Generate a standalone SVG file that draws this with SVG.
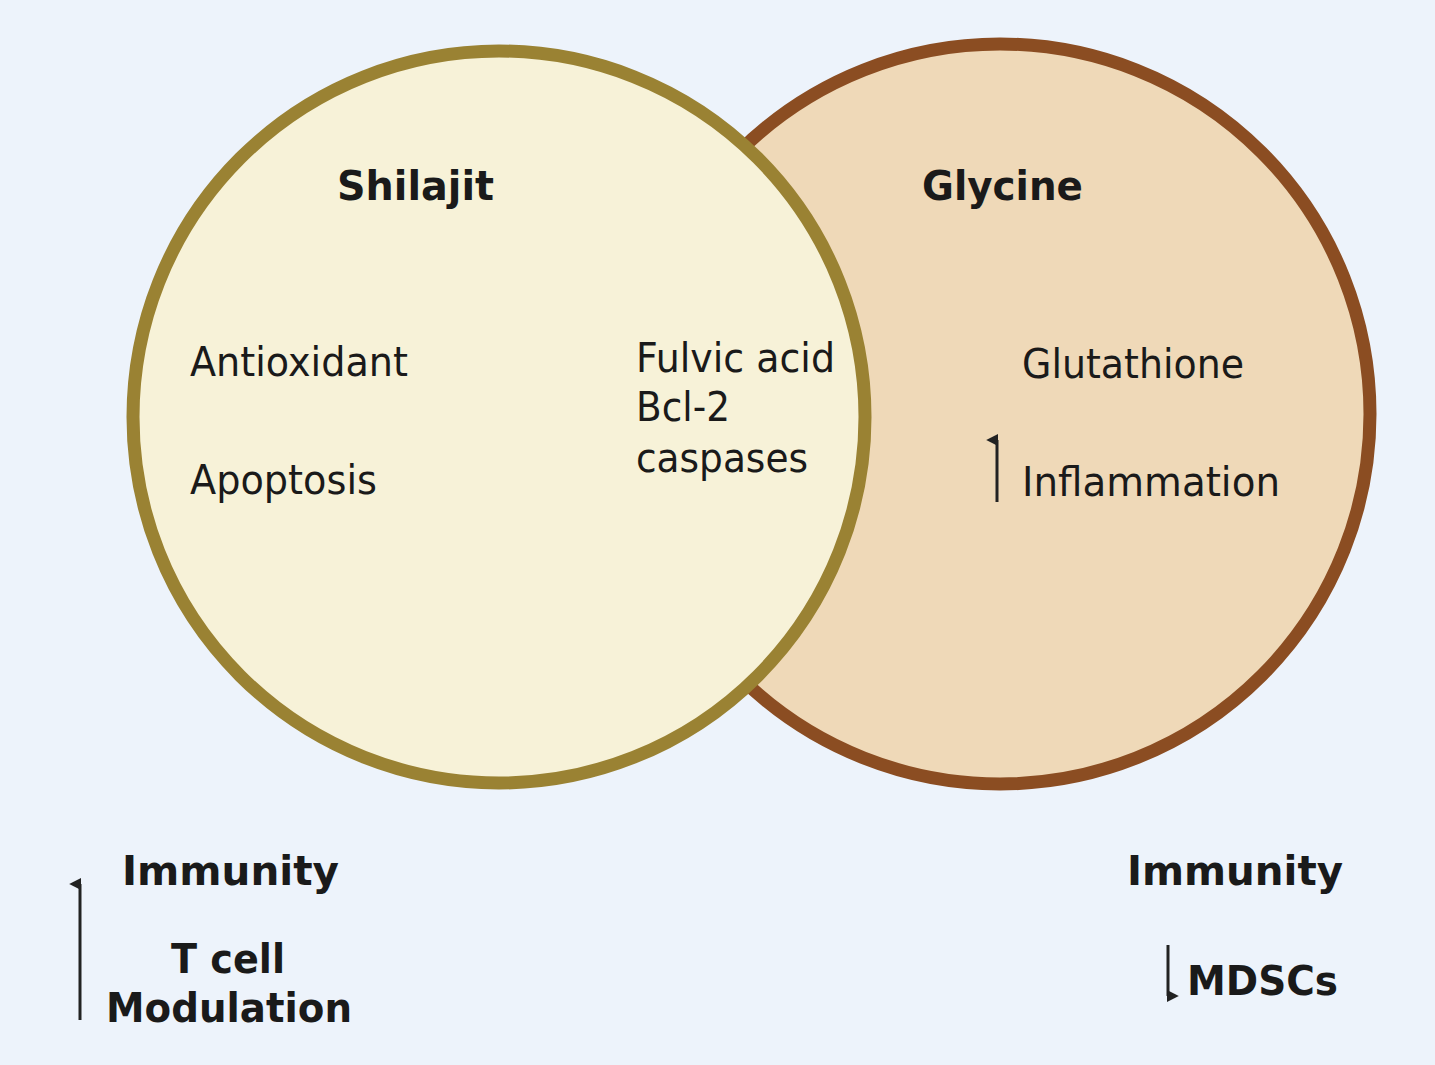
<svg xmlns="http://www.w3.org/2000/svg" width="1435" height="1065" viewBox="0 0 1435 1065">
<defs>
<marker id="ah" viewBox="0 0 10 10" refX="5" refY="9" markerWidth="4" markerHeight="4" orient="auto-start-reverse" markerUnits="strokeWidth"><path d="M0,10 L5,0 L10,10 Z" fill="#222"/></marker>
<marker id="ah2" viewBox="0 0 10 10" refX="9" refY="5" markerWidth="4" markerHeight="4" orient="auto" markerUnits="strokeWidth"><path d="M0,0 L10,5 L0,10 Z" fill="#222"/></marker>
</defs>
<style>
text{font-family:"DejaVu Sans","Liberation Sans",sans-serif;font-size:40px;fill:#1a1a1a}
.b{font-weight:bold}
.ar{stroke:#222;stroke-width:3;fill:none}
</style>
<rect width="1435" height="1065" fill="#edf3fb"/>
<g id="glycine">
<circle cx="1000" cy="414" r="370" fill="#efd9b8" stroke="#8b4d22" stroke-width="13"/>
<text class="b" x="922" y="200" textLength="161" lengthAdjust="spacingAndGlyphs">Glycine</text>
<text x="1022" y="378" textLength="222" lengthAdjust="spacingAndGlyphs">Glutathione</text>
<text x="1022" y="496" textLength="258" lengthAdjust="spacingAndGlyphs">Inflammation</text>
</g>
<g id="shilajit">
<circle cx="499" cy="417" r="366" fill="#f7f2d8" stroke="#9a8233" stroke-width="13"/>
<text class="b" x="337" y="200" textLength="157" lengthAdjust="spacingAndGlyphs">Shilajit</text>
<text x="190" y="376" textLength="218" lengthAdjust="spacingAndGlyphs">Antioxidant</text>
<text x="190" y="494" textLength="187" lengthAdjust="spacingAndGlyphs">Apoptosis</text>
<text x="636" y="372" textLength="199" lengthAdjust="spacingAndGlyphs">Fulvic acid</text>
<text x="636" y="421" textLength="94" lengthAdjust="spacingAndGlyphs">Bcl-2</text>
<text x="636" y="472" textLength="172" lengthAdjust="spacingAndGlyphs">caspases</text>
</g>
<g id="left-immunity">
<text class="b" x="122" y="885" textLength="217" lengthAdjust="spacingAndGlyphs">Immunity</text>
<text class="b" x="171" y="973" textLength="114" lengthAdjust="spacingAndGlyphs">T cell</text>
<text class="b" x="106" y="1022" textLength="246" lengthAdjust="spacingAndGlyphs">Modulation</text>
</g>
<g id="right-immunity">
<text class="b" x="1127" y="885" textLength="216" lengthAdjust="spacingAndGlyphs">Immunity</text>
<text class="b" x="1187" y="995" textLength="151" lengthAdjust="spacingAndGlyphs">MDSCs</text>
</g>
<g id="connectors">
<line class="ar" x1="80" y1="1020" x2="80" y2="884" marker-end="url(#ah)"/>
<line class="ar" x1="997" y1="502" x2="997" y2="440" marker-end="url(#ah)"/>
<line class="ar" x1="1168" y1="945" x2="1168" y2="996" marker-end="url(#ah)"/>
</g>
</svg>
